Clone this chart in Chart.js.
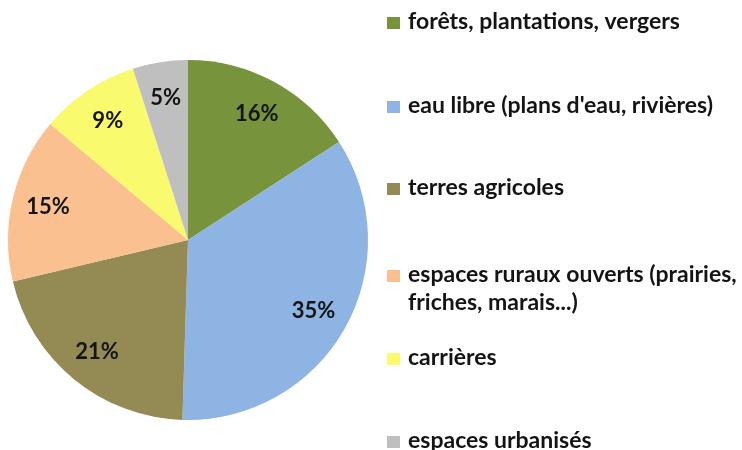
<!DOCTYPE html>
<html>
<head>
<meta charset="utf-8">
<script src="https://cdn.jsdelivr.net/npm/chart.js@4/dist/chart.umd.min.js"></script>
<style>
  html, body { margin: 0; padding: 0; background: #ffffff; }
  #wrap { width: 742px; height: 450px; position: relative; }
</style>
</head>
<body>
<div id="wrap"><canvas id="c" width="742" height="450"></canvas></div>
<script>
// Occupation du sol (%)
const categories = [
  'forêts, plantations, vergers',
  "eau libre (plans d'eau, rivières)",
  'terres agricoles',
  'espaces ruraux ouverts (prairies, friches, marais...)',
  'carrières',
  'espaces urbanisés'
];
const shares = [16, 35, 21, 15, 9, 5];
const sliceColors = ['#77933C', '#8EB4E3', '#948A54', '#FAC090', '#FAFA6E', '#BFBFBF'];

// Legend text lines and their baselines on the right-hand side
const legendLines = [
  ['forêts, plantations, vergers'],
  ["eau libre (plans d'eau, rivières)"],
  ['terres agricoles'],
  ['espaces ruraux ouverts (prairies,', 'friches, marais...)'],
  ['carrières'],
  ['espaces urbanisés']
];
const legendBaselines = [29, 113, 195, 282, 365, 448];

const FONT = 'bold 23px Lato, "Open Sans", sans-serif';

const sliceLabels = {
  id: 'sliceLabels',
  afterDatasetsDraw(chart) {
    const ctx = chart.ctx;
    const meta = chart.getDatasetMeta(0);
    ctx.save();
    ctx.font = 'bold 22px Lato, "Open Sans", sans-serif';
    ctx.fillStyle = '#141414';
    ctx.textAlign = 'center';
    ctx.textBaseline = 'middle';
    meta.data.forEach((arc, i) => {
      const mid = (arc.startAngle + arc.endAngle) / 2;
      const r = arc.outerRadius * 0.8;
      ctx.fillText(shares[i] + '%', arc.x + Math.cos(mid) * r, arc.y + Math.sin(mid) * r);
    });
    ctx.restore();
  }
};

const sideLegend = {
  id: 'sideLegend',
  afterDraw(chart) {
    const ctx = chart.ctx;
    ctx.save();
    ctx.font = FONT;
    ctx.textAlign = 'left';
    ctx.textBaseline = 'alphabetic';
    categories.forEach((name, i) => {
      const base = legendBaselines[i];
      ctx.fillStyle = sliceColors[i];
      ctx.fillRect(387, base - 12, 13, 12);
      ctx.fillStyle = '#141414';
      legendLines[i].forEach((line, k) => {
        ctx.fillText(line, 408, base + k * 28);
      });
    });
    ctx.restore();
  }
};

new Chart(document.getElementById('c'), {
  type: 'pie',
  data: {
    labels: categories,
    datasets: [{
      data: shares,
      backgroundColor: sliceColors,
      borderWidth: 0
    }]
  },
  options: {
    responsive: false,
    animation: false,
    layout: { padding: { left: 8, top: 60, bottom: 30, right: 374 } },
    plugins: {
      legend: { display: false },
      tooltip: { enabled: false }
    }
  },
  plugins: [sliceLabels, sideLegend]
});
</script>
</body>
</html>
